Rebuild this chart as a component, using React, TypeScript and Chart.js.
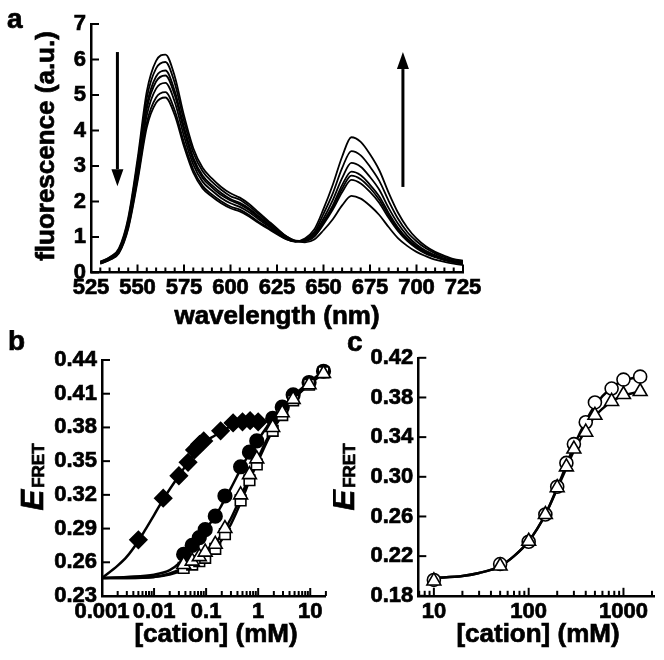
import React, { useEffect, useRef } from 'react';
import { Chart, registerables } from 'chart.js';

Chart.register(...registerables);

const FONT = '"Liberation Sans", Arial, Helvetica, sans-serif';

// ---------- Panel a: emission spectra ----------
const WAVELENGTH = [530, 535, 540, 545, 550, 555, 560, 565, 570, 575, 580, 585, 590, 595, 600, 605, 610, 615, 620, 625, 630, 635, 640, 645, 650, 655, 660, 665, 670, 675, 680, 685, 690, 695, 700, 705, 710, 715, 720, 725];
const SPEC_1 = [0.31, 0.43, 0.68, 1.54, 3.19, 5.10, 5.96, 6.14, 5.53, 4.42, 3.50, 2.95, 2.65, 2.41, 2.23, 2.11, 1.93, 1.70, 1.47, 1.24, 1.02, 0.89, 0.85, 0.93, 1.19, 1.50, 1.89, 2.16, 2.08, 1.88, 1.62, 1.28, 0.97, 0.75, 0.58, 0.46, 0.36, 0.30, 0.25, 0.21];
const SPEC_2 = [0.30, 0.42, 0.65, 1.48, 3.08, 4.92, 5.75, 5.93, 5.34, 4.27, 3.38, 2.85, 2.56, 2.33, 2.15, 2.05, 1.87, 1.65, 1.43, 1.22, 1.02, 0.90, 0.89, 1.01, 1.36, 1.77, 2.26, 2.61, 2.51, 2.27, 1.96, 1.54, 1.17, 0.89, 0.68, 0.53, 0.43, 0.35, 0.29, 0.24];
const SPEC_3 = [0.28, 0.40, 0.63, 1.42, 2.96, 4.72, 5.52, 5.69, 5.12, 4.10, 3.24, 2.73, 2.46, 2.24, 2.07, 1.96, 1.80, 1.59, 1.38, 1.18, 0.99, 0.88, 0.89, 1.02, 1.40, 1.83, 2.36, 2.73, 2.63, 2.38, 2.05, 1.61, 1.22, 0.93, 0.71, 0.55, 0.45, 0.36, 0.29, 0.26];
const SPEC_4 = [0.28, 0.39, 0.61, 1.39, 2.89, 4.61, 5.38, 5.55, 5.00, 4.00, 3.16, 2.66, 2.40, 2.18, 2.03, 1.92, 1.76, 1.55, 1.36, 1.15, 0.97, 0.88, 0.90, 1.04, 1.44, 1.89, 2.46, 2.84, 2.74, 2.47, 2.14, 1.68, 1.27, 0.96, 0.74, 0.58, 0.45, 0.36, 0.30, 0.26];
const SPEC_5 = [0.27, 0.37, 0.59, 1.34, 2.78, 4.43, 5.18, 5.34, 4.81, 3.84, 3.04, 2.56, 2.31, 2.10, 1.95, 1.85, 1.70, 1.50, 1.32, 1.12, 0.96, 0.87, 0.90, 1.08, 1.52, 2.04, 2.66, 3.09, 2.98, 2.69, 2.33, 1.82, 1.38, 1.04, 0.79, 0.61, 0.49, 0.39, 0.33, 0.27];
const SPEC_6 = [0.25, 0.36, 0.56, 1.27, 2.64, 4.22, 4.93, 5.08, 4.57, 3.66, 2.90, 2.44, 2.20, 2.01, 1.86, 1.77, 1.62, 1.43, 1.27, 1.10, 0.94, 0.87, 0.93, 1.13, 1.65, 2.23, 2.94, 3.42, 3.30, 2.98, 2.58, 2.02, 1.52, 1.14, 0.88, 0.68, 0.54, 0.43, 0.36, 0.30];
const SPEC_7 = [0.25, 0.35, 0.54, 1.23, 2.56, 4.09, 4.78, 4.93, 4.44, 3.55, 2.81, 2.37, 2.14, 1.95, 1.81, 1.72, 1.58, 1.40, 1.24, 1.08, 0.94, 0.88, 0.96, 1.21, 1.79, 2.47, 3.26, 3.81, 3.68, 3.33, 2.88, 2.25, 1.69, 1.27, 0.96, 0.74, 0.58, 0.47, 0.38, 0.33];
const SPECTRA = [SPEC_1, SPEC_2, SPEC_3, SPEC_4, SPEC_5, SPEC_6, SPEC_7];
const A_X_MINOR = [530, 535, 540, 545, 555, 560, 565, 570, 580, 585, 590, 595, 605, 610, 615, 620, 630, 635, 640, 645, 655, 660, 665, 670, 680, 685, 690, 695, 705, 710, 715, 720];
const A_ARROWS = [
  { x: 539.2, from: 6.21, to: 2.43 },
  { x: 692.7, from: 2.41, to: 6.21 },
];

// ---------- Panel b ----------
const B_X_MAJOR = [0.001, 0.01, 0.1, 1, 10];
const B_X_MINOR = [0.002, 0.003, 0.004, 0.005, 0.006, 0.007, 0.008, 0.009, 0.02, 0.03, 0.04, 0.05, 0.06, 0.07, 0.08, 0.09, 0.2, 0.3, 0.4, 0.5, 0.6, 0.7, 0.8, 0.9, 2, 3, 4, 5, 6, 7, 8, 9, 20];
const B_DIAMOND_X = [0.005, 0.015, 0.03, 0.045, 0.06, 0.075, 0.09, 0.19, 0.33, 0.5, 0.7, 1.0];
const B_DIAMOND_Y = [0.280, 0.317, 0.337, 0.349, 0.360, 0.365, 0.368, 0.377, 0.384, 0.385, 0.386, 0.385];
const B_CONC = [0.037, 0.054, 0.074, 0.096, 0.15, 0.23, 0.46, 0.68, 0.94, 1.9, 2.9, 4.7, 9.5, 18];
const B_CIRCLE_Y = [0.267, 0.275, 0.282, 0.289, 0.301, 0.319, 0.345, 0.358, 0.368, 0.388, 0.398, 0.409, 0.420, 0.430];
const B_TRIANGLE_Y = [0.258, 0.261, 0.265, 0.269, 0.276, 0.290, 0.320, 0.338, 0.352, 0.380, 0.393, 0.405, 0.418, 0.428];
const B_SQUARE_Y = [0.255, 0.258, 0.261, 0.264, 0.272, 0.285, 0.315, 0.333, 0.347, 0.377, 0.391, 0.404, 0.418, 0.429];
const B_DIAMOND_FIT_X = [0.001, 0.002, 0.003, 0.005, 0.007, 0.01, 0.015, 0.02, 0.03, 0.05, 0.07, 0.1, 0.15, 0.2, 0.3, 0.5, 0.7, 1.0, 1.2];
const B_DIAMOND_FIT_Y = [0.246, 0.257, 0.265, 0.279, 0.290, 0.302, 0.316, 0.325, 0.337, 0.352, 0.361, 0.368, 0.373, 0.377, 0.381, 0.384, 0.385, 0.386, 0.386];
const B_CIRCLE_FIT_X = [0.001, 0.003, 0.01, 0.02, 0.03, 0.04, 0.06, 0.08, 0.1, 0.15, 0.2, 0.3, 0.5, 0.7, 1, 1.5, 2, 3, 5, 10, 18];
const B_CIRCLE_FIT_Y = [0.246, 0.247, 0.249, 0.253, 0.259, 0.266, 0.276, 0.284, 0.290, 0.301, 0.311, 0.326, 0.346, 0.358, 0.369, 0.381, 0.389, 0.398, 0.409, 0.421, 0.430];
const B_OPEN_FIT_X = [0.001, 0.003, 0.01, 0.02, 0.04, 0.06, 0.1, 0.15, 0.2, 0.3, 0.5, 0.7, 1, 1.5, 2, 3, 5, 10, 18];
const B_TRIANGLE_FIT_Y = [0.246, 0.246, 0.247, 0.250, 0.256, 0.262, 0.269, 0.277, 0.285, 0.299, 0.322, 0.338, 0.353, 0.370, 0.381, 0.394, 0.407, 0.419, 0.428];
const B_SQUARE_FIT_Y = [0.246, 0.246, 0.247, 0.249, 0.254, 0.259, 0.265, 0.272, 0.280, 0.294, 0.317, 0.334, 0.350, 0.368, 0.379, 0.393, 0.406, 0.419, 0.429];

// ---------- Panel c ----------
const C_X_MAJOR = [10, 100, 1000];
const C_X_MINOR = [7, 8, 9, 20, 30, 40, 50, 60, 70, 80, 90, 200, 300, 400, 500, 600, 700, 800, 900, 2000];
const C_CONC = [10, 50, 100, 150, 200, 250, 300, 400, 500, 750, 1000, 1500];
const C_CIRCLE_Y = [0.196, 0.212, 0.2345, 0.262, 0.290, 0.314, 0.333, 0.355, 0.375, 0.389, 0.398, 0.401];
const C_TRIANGLE_Y = [0.195, 0.210, 0.235, 0.262, 0.289, 0.310, 0.328, 0.345, 0.362, 0.376, 0.383, 0.386];
const C_FIT_X = [10, 20, 30, 50, 70, 100, 150, 200, 250, 300, 400, 500, 750, 1000, 1500];
const C_CIRCLE_FIT_Y = [0.198, 0.200, 0.203, 0.210, 0.220, 0.235, 0.262, 0.289, 0.312, 0.331, 0.356, 0.372, 0.390, 0.397, 0.401];
const C_TRIANGLE_FIT_Y = [0.198, 0.200, 0.203, 0.210, 0.220, 0.235, 0.262, 0.288, 0.309, 0.326, 0.347, 0.361, 0.376, 0.382, 0.386];

const pts = (xs: number[], ys: number[]) => xs.map((x, i) => ({ x, y: ys[i] }));

const TICK_FONT = { family: FONT, size: 22, weight: 'bold' as const };
const STROKE = 0.7;

function boldText(ctx: any, text: string, x: number, y: number) {
  ctx.fillText(text, x, y);
  ctx.lineWidth = STROKE;
  ctx.strokeText(text, x, y);
}

function makeDecor(cfg: any) {
  return {
    id: 'decor',
    afterDraw(chart: any) {
      const { ctx, chartArea: ca, scales } = chart;
      const xs = scales.x;
      const ys = scales.y;
      ctx.save();
      ctx.strokeStyle = '#000';
      ctx.fillStyle = '#000';
      ctx.lineWidth = 2;
      const xTick = (v: number, len: number) => {
        const p = xs.getPixelForValue(v);
        ctx.beginPath();
        ctx.moveTo(p, ca.bottom);
        ctx.lineTo(p, ca.bottom - len);
        ctx.stroke();
      };
      xs.ticks.forEach((t: any) => xTick(t.value, 8));
      (cfg.xMinor || []).forEach((v: number) => xTick(v, 5));
      ys.ticks.forEach((t: any) => {
        const p = ys.getPixelForValue(t.value);
        ctx.beginPath();
        ctx.moveTo(ca.left, p);
        ctx.lineTo(ca.left + 8, p);
        ctx.stroke();
      });
      // arrows
      (cfg.arrows || []).forEach((a: any) => {
        const px = xs.getPixelForValue(a.x);
        const y1 = ys.getPixelForValue(a.from);
        const y2 = ys.getPixelForValue(a.to);
        const dir = y2 > y1 ? 1 : -1;
        const head = 17;
        ctx.lineWidth = 3;
        ctx.beginPath();
        ctx.moveTo(px, y1);
        ctx.lineTo(px, y2 - dir * head);
        ctx.stroke();
        ctx.beginPath();
        ctx.moveTo(px, y2);
        ctx.lineTo(px - 6, y2 - dir * head);
        ctx.lineTo(px + 6, y2 - dir * head);
        ctx.closePath();
        ctx.fill();
      });
      // y title
      if (cfg.yTitle) {
        ctx.save();
        ctx.translate(cfg.yTitle.x, cfg.yTitle.y);
        ctx.rotate(-Math.PI / 2);
        ctx.font = `bold 26px ${FONT}`;
        ctx.textAlign = 'center';
        ctx.textBaseline = 'alphabetic';
        boldText(ctx, cfg.yTitle.text, 0, 0);
        ctx.restore();
      }
      if (cfg.efret) {
        ctx.save();
        ctx.translate(cfg.efret.x, cfg.efret.y);
        ctx.rotate(-Math.PI / 2);
        ctx.textAlign = 'left';
        ctx.textBaseline = 'alphabetic';
        const fE = `italic bold 31px ${FONT}`;
        const fS = `bold 17px ${FONT}`;
        ctx.font = fE;
        const wE = ctx.measureText('E').width;
        ctx.font = fS;
        const wS = ctx.measureText('FRET').width;
        const total = wE + 2 + wS;
        ctx.font = fE;
        boldText(ctx, 'E', -total / 2, 0);
        ctx.font = fS;
        boldText(ctx, 'FRET', -total / 2 + wE + 2, 1);
        ctx.restore();
      }
      if (cfg.xTitle) {
        ctx.font = `bold 26px ${FONT}`;
        ctx.textAlign = 'center';
        ctx.textBaseline = 'alphabetic';
        boldText(ctx, cfg.xTitle.text, cfg.xTitle.x, cfg.xTitle.y);
      }
      if (cfg.label) {
        ctx.font = `bold 28px ${FONT}`;
        ctx.textAlign = 'left';
        ctx.textBaseline = 'alphabetic';
        boldText(ctx, cfg.label.text, cfg.label.x, cfg.label.y);
      }
      ctx.restore();
    },
  };
}

function baseScale(extra: any) {
  const { ticks, ...rest } = extra;
  return {
    grid: { display: false, drawTicks: false },
    border: { display: true, color: '#000', width: 2.5 },
    ...rest,
    ticks: {
      font: TICK_FONT,
      color: '#000',
      textStrokeColor: '#000',
      textStrokeWidth: STROKE,
      padding: 5,
      autoSkip: false,
      maxRotation: 0,
      minRotation: 0,
      ...(ticks || {}),
    },
  };
}

const commonOptions = (padding: any) => ({
  responsive: false,
  animation: false as const,
  devicePixelRatio: 1,
  events: [] as any[],
  layout: { padding },
  plugins: { legend: { display: false }, tooltip: { enabled: false } },
});

function buildA() {
  return {
    type: 'line' as const,
    data: {
      datasets: SPECTRA.map((s) => ({
        data: pts(WAVELENGTH, s),
        borderColor: '#000',
        borderWidth: 1.8,
        pointRadius: 0,
        fill: false,
        cubicInterpolationMode: 'monotone' as const,
      })),
    },
    options: {
      ...commonOptions({ left: 0, right: 201, top: 24, bottom: 0 }),
      scales: {
        x: baseScale({
          type: 'linear', min: 525, max: 725,
          ticks: { stepSize: 25, padding: 2 },
          afterFit: (s: any) => { s.height = 57.5; },
        }),
        y: baseScale({
          type: 'linear', min: 0, max: 7,
          ticks: { stepSize: 1, padding: 5 },
          afterFit: (s: any) => { s.width = 91; },
        }),
      },
    },
    plugins: [makeDecor({
      xMinor: A_X_MINOR,
      arrows: A_ARROWS,
      yTitle: { text: 'fluorescence (a.u.)', x: 54, y: 146 },
      xTitle: { text: 'wavelength (nm)', x: 277, y: 324 },
      label: { text: 'a', x: 7, y: 28 },
    })],
  };
}

const lineDs = (xs: number[], ys: number[]) => ({
  data: pts(xs, ys),
  borderColor: '#000',
  borderWidth: 2.5,
  pointRadius: 0,
  fill: false,
  cubicInterpolationMode: 'monotone' as const,
  order: 10,
  clip: false as const,
});

const markerDs = (xs: number[], ys: number[], style: string, r: number, fill: string, order: number) => ({
  data: pts(xs, ys),
  showLine: false,
  pointStyle: style,
  pointRadius: r,
  pointBackgroundColor: fill,
  pointBorderColor: '#000',
  pointBorderWidth: 1.6,
  order,
  clip: false as const,
});

function buildB() {
  return {
    type: 'line' as const,
    data: {
      datasets: [
        markerDs(B_DIAMOND_X, B_DIAMOND_Y, 'rectRot', 8.5, '#000', 0),
        markerDs(B_CONC, B_TRIANGLE_Y, 'triangle', 8, '#fff', 1),
        markerDs(B_CONC, B_SQUARE_Y, 'rect', 7.5, '#fff', 2),
        markerDs(B_CONC, B_CIRCLE_Y, 'circle', 6.8, '#000', 3),
        lineDs(B_DIAMOND_FIT_X, B_DIAMOND_FIT_Y),
        lineDs(B_CIRCLE_FIT_X, B_CIRCLE_FIT_Y),
        lineDs(B_OPEN_FIT_X, B_TRIANGLE_FIT_Y),
        lineDs(B_OPEN_FIT_X, B_SQUARE_FIT_Y),
      ],
    },
    options: {
      ...commonOptions({ left: 0, right: 7.5, top: 30, bottom: 0 }),
      scales: {
        x: baseScale({
          type: 'logarithmic', min: 0.001, max: 20,
          ticks: { padding: 3, callback: (v: any) => String(v) },
          afterBuildTicks: (s: any) => { s.ticks = B_X_MAJOR.map((v) => ({ value: v })); },
          afterFit: (s: any) => { s.height = 64; },
        }),
        y: baseScale({
          type: 'linear', min: 0.23, max: 0.44,
          ticks: { stepSize: 0.03, padding: 5, callback: (v: any) => Number(v).toFixed(2) },
          afterFit: (s: any) => { s.width = 102; },
        }),
      },
    },
    plugins: [makeDecor({
      xMinor: B_X_MINOR,
      efret: { x: 43, y: 147 },
      xTitle: { text: '[cation] (mM)', x: 216, y: 312 },
      label: { text: 'b', x: 8, y: 20 },
    })],
  };
}

function buildC() {
  return {
    type: 'line' as const,
    data: {
      datasets: [
        markerDs(C_CONC, C_TRIANGLE_Y, 'triangle', 8, '#fff', 0),
        markerDs(C_CONC, C_CIRCLE_Y, 'circle', 6.5, '#fff', 1),
        lineDs(C_FIT_X, C_CIRCLE_FIT_Y),
        lineDs(C_FIT_X, C_TRIANGLE_FIT_Y),
      ],
    },
    options: {
      ...commonOptions({ left: 0, right: 9, top: 27.8, bottom: 0 }),
      scales: {
        x: baseScale({
          type: 'logarithmic', min: 6.85, max: 2120,
          ticks: { padding: 3, callback: (v: any) => String(v) },
          afterBuildTicks: (s: any) => { s.ticks = C_X_MAJOR.map((v) => ({ value: v })); },
          afterFit: (s: any) => { s.height = 64.2; },
        }),
        y: baseScale({
          type: 'linear', min: 0.18, max: 0.42,
          ticks: { stepSize: 0.04, padding: 5, callback: (v: any) => Number(v).toFixed(2) },
          afterFit: (s: any) => { s.width = 85.3; },
        }),
      },
    },
    plugins: [makeDecor({
      xMinor: C_X_MINOR,
      efret: { x: 21, y: 147 },
      xTitle: { text: '[cation] (mM)', x: 205, y: 312 },
      label: { text: 'c', x: 14, y: 21 },
    })],
  };
}

function ChartCanvas({ left, top, width, height, build }: any) {
  const ref = useRef<HTMLCanvasElement | null>(null);
  useEffect(() => {
    const chart = new Chart(ref.current as HTMLCanvasElement, build());
    return () => chart.destroy();
  }, []);
  return (
    <canvas
      ref={ref}
      width={width}
      height={height}
      style={{ position: 'absolute', left, top, width, height }}
    />
  );
}

export default function App() {
  return (
    <div style={{ position: 'absolute', left: 0, top: 0, width: 664, height: 660, background: '#fff' }}>
      <ChartCanvas left={0} top={0} width={664} height={330} build={buildA} />
      <ChartCanvas left={0} top={330} width={336} height={330} build={buildB} />
      <ChartCanvas left={333} top={330} width={331} height={330} build={buildC} />
    </div>
  );
}
